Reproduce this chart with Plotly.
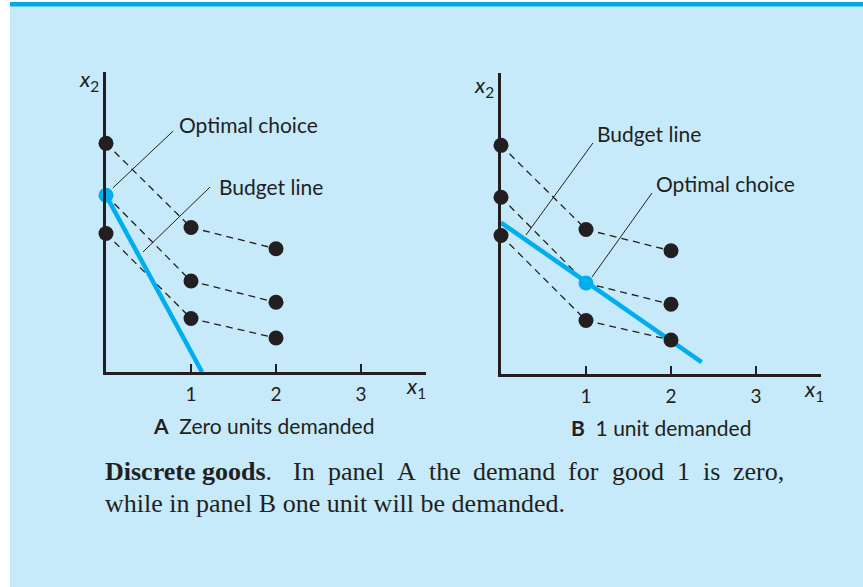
import plotly.graph_objects as go

# ---------------- data ----------------
bundle_x = [0, 1, 2]
top_bundle = [2.69, 1.70, 1.45]
mid_bundle = [2.08, 1.07, 0.82]
low_bundle = [1.63, 0.63, 0.40]

budget_a_x = [0, 1.13]
budget_a_y = [2.08, 0.0]
budget_b_x = [0, 2.36]
budget_b_y = [1.78, 0.14]

optimal_a = ([0], [2.08])
optimal_b = ([1], [1.07])

tick_vals = [1, 2, 3]
tick_text = ["1", "2", "3"]

# leader lines (data units) and their labels
leader_a_opt = ([0.08, 0.79], [2.165, 2.835])
leader_a_bud = ([0.435, 1.224], [1.412, 2.176])
leader_b_bud = ([0.294, 1.082], [1.635, 2.718])
leader_b_opt = ([1.071, 1.776], [1.141, 2.129])
label_a_opt = (0.835, 2.906, "Optimal choice")
label_a_bud = (1.306, 2.188, "Budget line")
label_b_bud = (1.106, 2.835, "Budget line")
label_b_opt = (1.80, 2.247, "Optimal choice")

panel_titles = ["<b>A</b>  Zero units demanded", "<b>B</b>  1 unit demanded"]
caption_1_bold = "Discrete goods"
caption_1_rest = "In panel A the demand for good 1 is zero,"
caption_2 = "while in panel B one unit will be demanded."

# ---------------- style ----------------
W, H = 863, 587
INK = "#231F20"
BLUE = "#00AEEF"
BG = "#C6EAF9"
SANS = "Lato"
SERIF = "Liberation Serif"
CAP_SIZE = 26
UNIT = 85.0

# approximate Times-compatible advance widths (per 1000 em) used to justify caption line 1
REG = dict(zip("abcdefghilmnoprstuwzAIB1,. ",
               [444, 500, 444, 500, 444, 333, 500, 500, 278, 278, 778, 500, 500, 500, 333,
                389, 278, 500, 722, 444, 722, 333, 667, 500, 250, 250, 250]))
BOLD = dict(zip("Discretgod .", [722, 278, 389, 444, 444, 444, 333, 500, 500, 556, 250, 250]))


def text_w(s, table, size):
    return sum(table.get(ch, 500) for ch in s) * size / 1000.0


def px_x(p):
    return p / W


def px_y(p):
    return 1 - p / H


fig = go.Figure()

panels = [
    dict(xa="x", ya="y", budget=(budget_a_x, budget_a_y), opt=optimal_a,
         leaders=[leader_a_opt, leader_a_bud], labels=[label_a_opt, label_a_bud]),
    dict(xa="x2", ya="y2", budget=(budget_b_x, budget_b_y), opt=optimal_b,
         leaders=[leader_b_bud, leader_b_opt], labels=[label_b_bud, label_b_opt]),
]

for p in panels:
    for ys in (top_bundle, mid_bundle, low_bundle):
        fig.add_trace(go.Scatter(x=bundle_x, y=ys, mode="lines", xaxis=p["xa"], yaxis=p["ya"],
                                 line=dict(color=INK, width=1.3, dash="7px,5px"),
                                 hoverinfo="skip", showlegend=False))
    fig.add_trace(go.Scatter(x=p["budget"][0], y=p["budget"][1], mode="lines",
                             xaxis=p["xa"], yaxis=p["ya"],
                             line=dict(color=BLUE, width=4.5), cliponaxis=False,
                             hoverinfo="skip", showlegend=False))
    for lx, ly in p["leaders"]:
        fig.add_trace(go.Scatter(x=lx, y=ly, mode="lines", xaxis=p["xa"], yaxis=p["ya"],
                                 line=dict(color=INK, width=1), cliponaxis=False,
                                 hoverinfo="skip", showlegend=False))
    dx, dy = [], []
    for ys in (top_bundle, mid_bundle, low_bundle):
        for xv, yv in zip(bundle_x, ys):
            if (xv, yv) != (p["opt"][0][0], p["opt"][1][0]):
                dx.append(xv)
                dy.append(yv)
    fig.add_trace(go.Scatter(x=dx, y=dy, mode="markers", xaxis=p["xa"], yaxis=p["ya"],
                             marker=dict(color=INK, size=15, line=dict(width=0)),
                             cliponaxis=False, hoverinfo="skip", showlegend=False))
    fig.add_trace(go.Scatter(x=p["opt"][0], y=p["opt"][1], mode="markers",
                             xaxis=p["xa"], yaxis=p["ya"],
                             marker=dict(color=BLUE, size=15, line=dict(width=0)),
                             cliponaxis=False, hoverinfo="skip", showlegend=False))
    for lx, ly, txt in p["labels"]:
        fig.add_annotation(x=lx, y=ly, xref=p["xa"], yref=p["ya"], text=txt, showarrow=False,
                           xanchor="left", yanchor="middle",
                           font=dict(family=SANS, size=21, color=INK))

axis_common = dict(showgrid=False, zeroline=False, showline=True, linecolor=INK, linewidth=3,
                   fixedrange=True)
xaxis_common = dict(axis_common, tickmode="array", tickvals=tick_vals, ticktext=tick_text,
                    ticks="inside", ticklen=8, tickwidth=1.5, tickcolor=INK,
                    ticklabelstandoff=3,
                    tickfont=dict(family=SANS, size=19, color=INK), range=[0, 320 / UNIT])
yaxis_common = dict(axis_common, ticks="", showticklabels=False)

fig.update_layout(
    width=W, height=H, autosize=False,
    margin=dict(l=0, r=0, t=0, b=0, pad=0),
    paper_bgcolor="white", plot_bgcolor="rgba(0,0,0,0)",
    xaxis=dict(xaxis_common, domain=[px_x(106), px_x(426)], anchor="y"),
    yaxis=dict(yaxis_common, domain=[px_y(372), px_y(72)], range=[0, 300 / UNIT], anchor="x"),
    xaxis2=dict(xaxis_common, domain=[px_x(501), px_x(821)], anchor="y2"),
    yaxis2=dict(yaxis_common, domain=[px_y(374), px_y(73)], range=[0, 301 / UNIT], anchor="x2"),
    shapes=[
        dict(type="rect", xref="paper", yref="paper", x0=px_x(10), x1=1, y0=0, y1=px_y(2),
             fillcolor=BG, line=dict(width=0), layer="below"),
        dict(type="rect", xref="paper", yref="paper", x0=px_x(10), x1=1, y0=px_y(6.5), y1=px_y(2),
             fillcolor="#00A9E6", line=dict(width=0), layer="below"),
    ],
)

# axis name labels
for x0, y0, txt in [(77, 80, "<i>x</i><sub>2</sub>"), (472, 86, "<i>x</i><sub>2</sub>"),
                    (404, 387, "<i>x</i><sub>1</sub>"), (802, 390, "<i>x</i><sub>1</sub>")]:
    fig.add_annotation(x=px_x(x0), y=px_y(y0), xref="paper", yref="paper", text=txt,
                       showarrow=False, xanchor="left", yanchor="middle",
                       font=dict(family=SANS, size=22, color=INK))

# panel titles
for cx, cy, txt in [(263, 425, panel_titles[0]), (661, 427, panel_titles[1])]:
    fig.add_annotation(x=px_x(cx), y=px_y(cy), xref="paper", yref="paper", text=txt,
                       showarrow=False, xanchor="center", yanchor="middle",
                       font=dict(family=SANS, size=21, color=INK))

# caption line 1: justified word by word between left and right margins
LEFT, RIGHT = 103, 782
words = [("<b>" + caption_1_bold + "</b>.", text_w(caption_1_bold, BOLD, CAP_SIZE) + text_w(".", REG, CAP_SIZE))]
words += [(w_, text_w(w_, REG, CAP_SIZE)) for w_ in caption_1_rest.split(" ")]
total = sum(w_ for _, w_ in words)
n_gaps = len(words) - 1
sentence_extra = 1.6  # wider space after the sentence-ending period (TeX style)
gap = (RIGHT - LEFT - total) / (n_gaps - 1 + sentence_extra)
xpos = LEFT
for i, (txt, wd) in enumerate(words):
    fig.add_annotation(x=px_x(xpos), y=px_y(471), xref="paper", yref="paper", text=txt,
                       showarrow=False, xanchor="left", yanchor="middle",
                       font=dict(family=SERIF, size=CAP_SIZE, color=INK))
    xpos += wd + (gap * sentence_extra if i == 0 else gap)

fig.add_annotation(x=px_x(LEFT), y=px_y(503), xref="paper", yref="paper", text=caption_2,
                   showarrow=False, xanchor="left", yanchor="middle",
                   font=dict(family=SERIF, size=CAP_SIZE, color=INK))

fig.write_html("out.html", config={"displayModeBar": False},
               post_script="document.body.style.margin='0';")
